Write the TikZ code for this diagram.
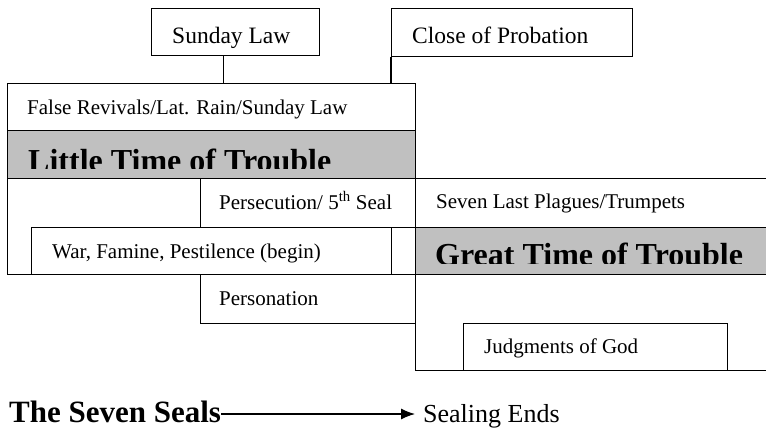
\documentclass[tikz,border=0pt]{standalone}
\usepackage{fontspec}
\setmainfont{Liberation Serif}
\usetikzlibrary{arrows.meta,calc}
\definecolor{boxgray}{HTML}{C0C0C0}
\tikzset{
  box/.style={draw=black, line width=1.2pt, inner sep=0pt, anchor=north west, rectangle},
  graybox/.style={box, fill=boxgray},
  lbl/.style={inner sep=0pt, anchor=base west, font=\fontsize{21}{24}\selectfont},
  toplbl/.style={lbl, font=\fontsize{23.5}{27}\selectfont},
  biglbl/.style={lbl, font=\fontsize{32}{36}\selectfont\bfseries},
  conn/.style={line width=1.2pt},
  arr/.style={line width=1.2pt, -{Latex[length=14pt,width=11pt]}}
}
\begin{document}
\begin{tikzpicture}[x=1pt,y=-1pt]
\useasboundingbox (0,0) rectangle (766,429);
% top boxes
\node[box, minimum width=168pt, minimum height=47pt] (sunday) at (151,8) {};
\node[box, minimum width=241pt, minimum height=48pt] (close) at (391,8) {};
% left column
\node[box, minimum width=408pt, minimum height=47pt] (revivals) at (7,83) {};
\node[graybox, minimum width=408pt, minimum height=48pt] (little) at (7,130) {};
\node[box, minimum width=408pt, minimum height=96pt] (outer) at (7,178) {};
\node[box, minimum width=215pt, minimum height=49pt] (persec) at (200,178) {};
\node[box, minimum width=360pt, minimum height=47pt] (war) at (31,227) {};
\node[box, minimum width=215pt, minimum height=49pt] (person) at (200,274) {};
% right column
\node[box, minimum width=400pt, minimum height=49pt] (plagues) at (415,178) {};
\node[graybox, minimum width=400pt, minimum height=47pt] (great) at (415,227) {};
\node[box, minimum width=400pt, minimum height=96pt] (lowright) at (415,274) {};
\node[box, minimum width=264pt, minimum height=47pt] (judg) at (463,323) {};
% connectors
\draw[conn] ([xshift=-12pt]sunday.south) -- ([xshift=-12pt]sunday.south |- revivals.north);
\draw[conn] (close.south west) -- (close.south west |- revivals.north);
% labels
\node[toplbl] (tsunday) at (172,43) {Sunday Law};
\node[toplbl] (tclose) at (412,43) {Close of Probation};
\node[lbl] (trevivals) at (27,114) {False Revivals/Lat. Rain/Sunday Law};
\begin{scope}
\clip (8,131) rectangle (414,168.5);
\node[biglbl] (tlittle) at (28,171) {Little Time of Trouble};
\end{scope}
\node[lbl] (tpersec) at (219,209) {Persecution/ 5\textsuperscript{th} Seal};
\node[lbl] (twar) at (52,258) {War, Famine, Pestilence (begin)};
\node[lbl] (tperson) at (219,305) {Personation};
\node[lbl] (tplagues) at (436,208) {Seven Last Plagues/Trumpets};
\begin{scope}
\clip (416,228) rectangle (766,263.5);
\node[biglbl] (tgreat) at (435,265) {Great Time of Trouble};
\end{scope}
\node[lbl] (tjudg) at (484,353) {Judgments of God};
% bottom
\node[lbl, font=\fontsize{31}{35}\selectfont\bfseries] (seals) at (9,422) {The Seven Seals};
\node[lbl, font=\fontsize{26}{30}\selectfont] (sealing) at (423,422) {Sealing Ends};
\draw[arr] (seals.east |- 0,414) -- ([xshift=-8pt]sealing.west |- 0,414);
\end{tikzpicture}
\end{document}
